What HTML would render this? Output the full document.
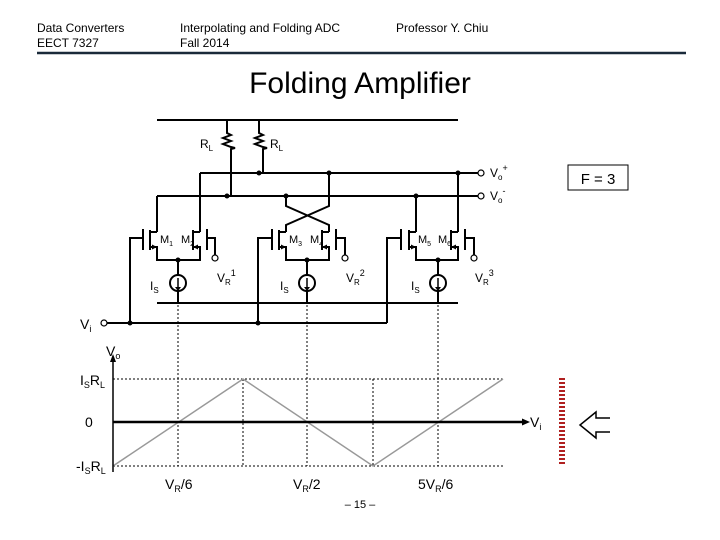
<!DOCTYPE html>
<html><head><style>
body{margin:0;background:#fff;}
svg{display:block;font-family:"Liberation Sans",sans-serif;}
</style></head><body>
<svg width="720" height="540" viewBox="0 0 720 540" xmlns="http://www.w3.org/2000/svg">
<g font-size="12" fill="#000">
<text x="37" y="32">Data Converters</text>
<text x="37" y="47">EECT 7327</text>
<text x="180" y="32">Interpolating and Folding ADC</text>
<text x="180" y="47">Fall 2014</text>
<text x="396" y="32">Professor Y. Chiu</text>
</g>
<line x1="37" y1="53" x2="686" y2="53" stroke="#1a2a3a" stroke-width="2.5"/>
<text x="360" y="93" font-size="30" text-anchor="middle">Folding Amplifier</text>

<g stroke="#000" stroke-width="2" fill="none">
<line x1="157" y1="120" x2="458" y2="120"/>
<line x1="157" y1="303" x2="458" y2="303"/>
<path d="M227 120 V133 l4 2 -8 3 8 3 -8 3 8 3 4 1 -4 1 V196"/>
<path d="M259 120 V133 l4 2 -8 3 8 3 -8 3 8 3 4 1 -4 1 V173"/>
<line x1="200" y1="173" x2="478" y2="173"/>
<line x1="157" y1="196" x2="478" y2="196"/>
<path d="M157 196 V232 M200 173 V232"/>
<path d="M150 230 V250 M157 232 h-7 M150 247 h7 V260 H200 V247 h-7 M200 232 h-7 M193 230 V250"/>
<path d="M143 229 V250 M130 323 V238 H143"/>
<path d="M207 229 V250 M207 238 H215 V255"/>
<path d="M286 196 V206 L329 225 V232 M329 173 V206 L286 225 V232"/>
<path d="M279 230 V250 M286 232 h-7 M279 247 h7 V260 H329 V247 h-7 M329 232 h-7 M322 230 V250"/>
<path d="M272 229 V250 M258 323 V238 H272"/>
<path d="M336 229 V250 M336 238 H345 V255"/>
<path d="M416 196 V232 M458 173 V232"/>
<path d="M409 230 V250 M416 232 h-7 M409 247 h7 V260 H458 V247 h-7 M458 232 h-7 M451 230 V250"/>
<path d="M401 229 V250 M387 323 V238 H401"/>
<path d="M465 229 V250 M465 238 H474 V255"/>
<path d="M178 260 V275 M178 291 V303"/>
<path d="M307 260 V275 M307 291 V303"/>
<path d="M438 260 V275 M438 291 V303"/>
<circle cx="178" cy="283" r="8"/><circle cx="307" cy="283" r="8"/><circle cx="438" cy="283" r="8"/>
<path d="M178 278 V289 M307 278 V289 M438 278 V289" stroke-width="1.5"/>
<line x1="107" y1="323" x2="387" y2="323"/>
</g>
<g fill="#000">
<path d="M175 287 l3 4 3-4z M304 287 l3 4 3-4z M435 287 l3 4 3-4z"/>
<path d="M157 247 l-5 -2.5 v5z M193 247 l5 -2.5 v5z M286 247 l-5 -2.5 v5z M322 247 l5 -2.5 v5z M416 247 l-5 -2.5 v5z M451 247 l5 -2.5 v5z"/>
<circle cx="227" cy="196" r="2.5"/><circle cx="259" cy="173" r="2.5"/><circle cx="329" cy="173" r="2.5"/><circle cx="458" cy="173" r="2.5"/>
<circle cx="286" cy="196" r="2.5"/><circle cx="416" cy="196" r="2.5"/>
<circle cx="178" cy="260" r="2.5"/><circle cx="307" cy="260" r="2.5"/><circle cx="438" cy="260" r="2.5"/>
<circle cx="130" cy="323" r="2.5"/><circle cx="258" cy="323" r="2.5"/>
</g>
<g fill="#fff" stroke="#000" stroke-width="1.2">
<circle cx="481" cy="173" r="3"/><circle cx="481" cy="196" r="3"/><circle cx="104" cy="323" r="3"/>
<circle cx="215" cy="258" r="3"/><circle cx="345" cy="258" r="3"/><circle cx="474" cy="258" r="3"/>
</g>
<g font-size="12" fill="#000">
<text x="200" y="148">R<tspan font-size="8" dy="3">L</tspan></text>
<text x="270" y="148">R<tspan font-size="8" dy="3">L</tspan></text>
<text x="490" y="177">V<tspan font-size="8" dy="3">o</tspan><tspan font-size="9" dy="-9">+</tspan></text>
<text x="490" y="200">V<tspan font-size="8" dy="3">o</tspan><tspan font-size="9" dy="-9">-</tspan></text>
<g font-size="11">
<text x="160" y="243">M<tspan font-size="7" dy="3">1</tspan></text>
<text x="181" y="243">M<tspan font-size="7" dy="3">2</tspan></text>
<text x="289" y="243">M<tspan font-size="7" dy="3">3</tspan></text>
<text x="310" y="243">M<tspan font-size="7" dy="3">4</tspan></text>
<text x="418" y="243">M<tspan font-size="7" dy="3">5</tspan></text>
<text x="438" y="243">M<tspan font-size="7" dy="3">6</tspan></text>
</g>
<text x="217" y="282">V<tspan font-size="8" dy="3">R</tspan><tspan font-size="9" dy="-9">1</tspan></text>
<text x="346" y="282">V<tspan font-size="8" dy="3">R</tspan><tspan font-size="9" dy="-9">2</tspan></text>
<text x="475" y="282">V<tspan font-size="8" dy="3">R</tspan><tspan font-size="9" dy="-9">3</tspan></text>
<text x="150" y="290">I<tspan font-size="8" dy="3">S</tspan></text>
<text x="280" y="290">I<tspan font-size="8" dy="3">S</tspan></text>
<text x="411" y="290">I<tspan font-size="8" dy="3">S</tspan></text>
<text x="80" y="329" font-size="14">V<tspan font-size="9" dy="3">i</tspan></text>
</g>
<rect x="568" y="165" width="60" height="25" fill="#fff" stroke="#000" stroke-width="1"/>
<text x="598" y="184" font-size="15" text-anchor="middle">F = 3</text>

<g stroke="#000" stroke-width="1" stroke-dasharray="2,2" fill="none">
<line x1="178" y1="305" x2="178" y2="466"/>
<line x1="307" y1="305" x2="307" y2="466"/>
<line x1="438" y1="305" x2="438" y2="466"/>
<line x1="243" y1="379" x2="243" y2="466"/>
<line x1="373" y1="379" x2="373" y2="466"/>
<line x1="113" y1="379" x2="503" y2="379"/>
<line x1="113" y1="466" x2="503" y2="466"/>
</g>
<polyline points="113,466 243,379 373,466 503,379" fill="none" stroke="#999" stroke-width="1.5"/>
<line x1="113" y1="360" x2="113" y2="472" stroke="#000" stroke-width="1.5"/>
<path d="M113 354 l-3 8 h6z" fill="#000"/>
<line x1="113" y1="422" x2="524" y2="422" stroke="#000" stroke-width="2.5"/>
<path d="M530 422 l-8 -3.5 v7z" fill="#000"/>
<g font-size="14" fill="#000">
<text x="106" y="356">V<tspan font-size="9" dy="3">o</tspan></text>
<text x="80" y="385">I<tspan font-size="9" dy="3">S</tspan><tspan dy="-3">R</tspan><tspan font-size="9" dy="3">L</tspan></text>
<text x="85" y="427">0</text>
<text x="76" y="471">-I<tspan font-size="9" dy="3">S</tspan><tspan dy="-3">R</tspan><tspan font-size="9" dy="3">L</tspan></text>
<text x="530" y="427">V<tspan font-size="9" dy="3">i</tspan></text>
<text x="165" y="489">V<tspan font-size="9" dy="3">R</tspan><tspan dy="-3">/6</tspan></text>
<text x="293" y="489">V<tspan font-size="9" dy="3">R</tspan><tspan dy="-3">/2</tspan></text>
<text x="418" y="489">5V<tspan font-size="9" dy="3">R</tspan><tspan dy="-3">/6</tspan></text>
</g>
<line x1="562" y1="378" x2="562" y2="466" stroke="#b02020" stroke-width="6" stroke-dasharray="2,2"/>
<path d="M610 418 H596 V412 L580 425 L596 438 V432 H610" fill="none" stroke="#000" stroke-width="1.5"/>
<text x="360" y="508" font-size="11" text-anchor="middle">– 15 –</text>
</svg>
</body></html>
